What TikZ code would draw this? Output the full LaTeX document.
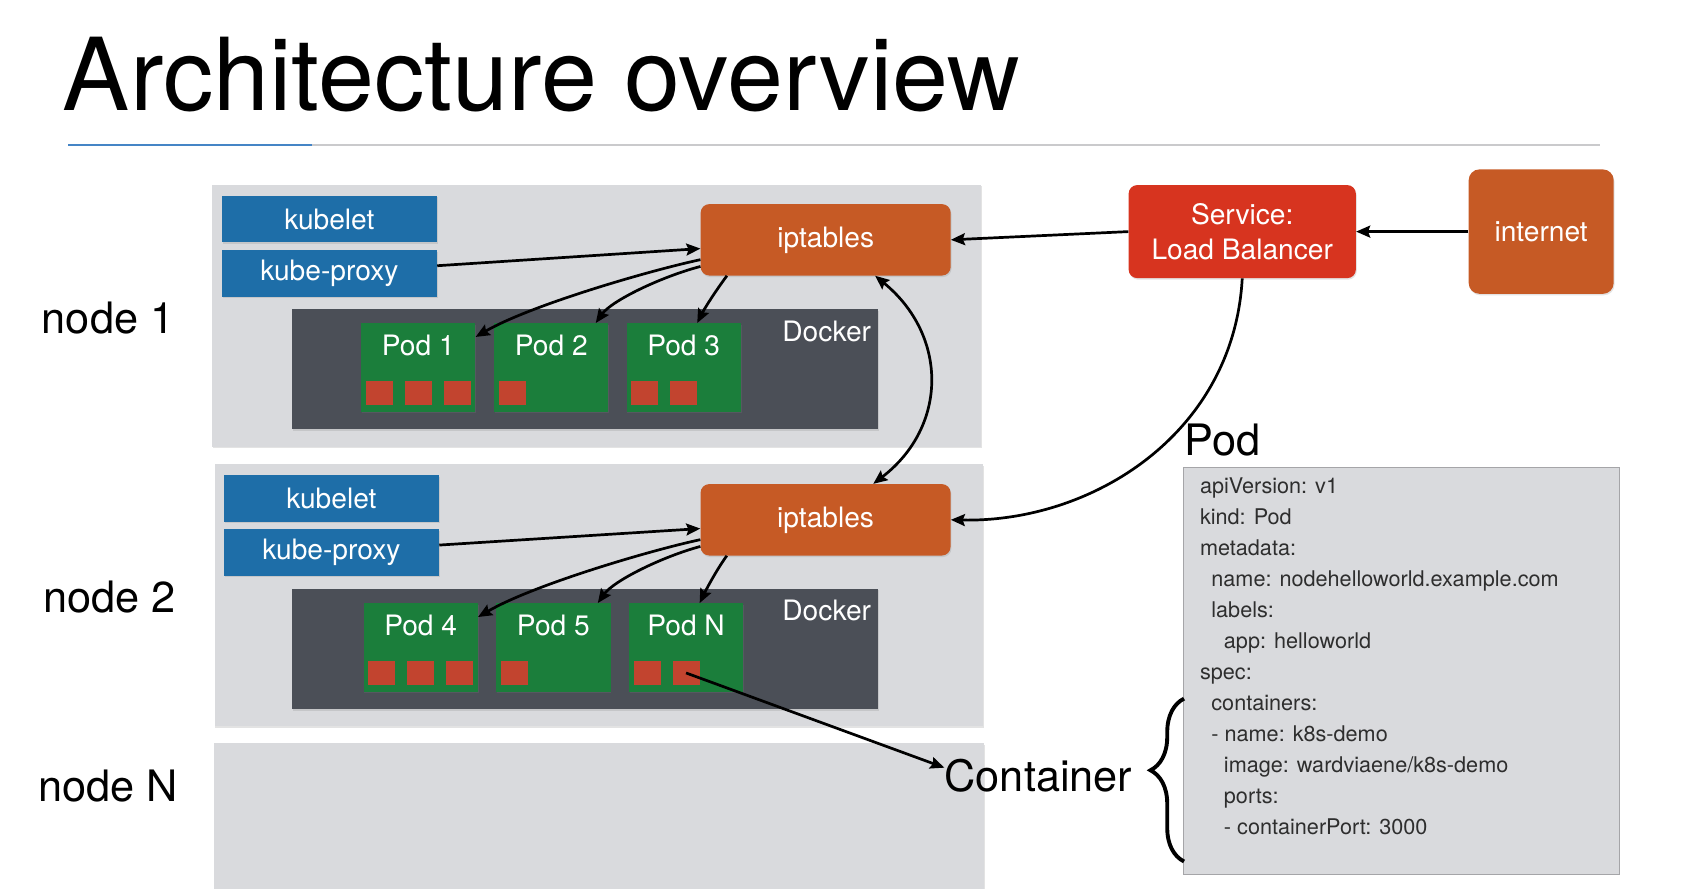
\documentclass[tikz,border=0pt]{standalone}
\usepackage{fontspec}
\setmainfont{TeX Gyre Heros}
\usetikzlibrary{arrows.meta, shadows, decorations.pathreplacing}

\definecolor{panelgray}{HTML}{D9DADD}
\definecolor{kubeblue}{HTML}{1E6EA8}
\definecolor{dockergray}{HTML}{4B4F57}
\definecolor{podgreen}{HTML}{1B7E3B}
\definecolor{ctrred}{HTML}{C2442F}
\definecolor{iptorange}{HTML}{C65A25}
\definecolor{lbred}{HTML}{D7341F}
\definecolor{specedge}{HTML}{A5A5A8}
\definecolor{specink}{HTML}{2E2E2E}
\definecolor{rulegray}{HTML}{CACACC}
\definecolor{ruleblue}{HTML}{4585C6}

\begin{document}
\begin{tikzpicture}[x=1pt,y=1pt,yscale=-1,xscale=1,
  soft/.style={drop shadow={shadow xshift=0.8pt, shadow yshift=-1.4pt, opacity=0.22}},
  panel/.style={fill=panelgray, inner sep=0pt, minimum width=710pt, soft},
  kubebox/.style={fill=kubeblue, text=white, inner sep=0pt, minimum width=199pt, minimum height=43pt, font=\fontsize{26}{30}\selectfont, soft},
  dockerbox/.style={fill=dockergray, inner sep=0pt, minimum width=542pt, minimum height=111pt, soft},
  podbox/.style={fill=podgreen, inner sep=0pt, minimum width=105.6pt, minimum height=81.7pt, soft},
  ctrbox/.style={fill=ctrred, inner sep=0pt, minimum width=25pt, minimum height=22.5pt},
  iptbox/.style={fill=iptorange, text=white, rounded corners=8pt, inner sep=0pt, minimum width=231pt, minimum height=66pt, font=\fontsize{26}{30}\selectfont, soft},
  whitetext/.style={text=white, inner sep=0pt, font=\fontsize{26}{30}\selectfont},
  bigtext/.style={inner sep=0pt, font=\fontsize{40}{44}\selectfont},
  spectext/.style={inner sep=0pt, text=specink, anchor=base west, font=\fontsize{20}{24}\selectfont},
  link/.style={line width=2.5pt, -{Stealth[length=13pt,width=11pt,inset=2pt]}},
  dlink/.style={line width=2.5pt, {Stealth[length=13pt,width=11pt,inset=2pt]}-{Stealth[length=13pt,width=11pt,inset=2pt]}}]
\useasboundingbox (0,0) rectangle (1568,821);

% Title
\node [anchor=base west, inner sep=0pt, font=\fontsize{93}{100}\selectfont] (title) at (58,102.3) {Architecture overview};
\draw [rulegray, line width=2pt] (63,134) -- (1478,134);
\draw [ruleblue, line width=2pt] (63,134) -- (288,134);

%Shape: Rectangle [node panels]
\node [panel, minimum height=242pt] (panel1) at (551.3,291.9) {};
\node [panel, minimum height=242pt] (panel2) at (553.2,550.1) {};
\node [panel, minimum height=134.2pt, minimum width=711pt] (panelN) at (553.5,753.9) {};

% Text Node
\node [bigtext, anchor=base west] (node1) at (38.5,308) {node 1};
% Text Node
\node [bigtext, anchor=base west] (node2) at (40,565.5) {node 2};
% Text Node
\node [bigtext, anchor=base west] (nodeN) at (35.4,741) {node N};

%Shape: Rectangle [node 1]
\node [kubebox] (kubelet1) at (304.3,202.5) {kubelet};
\node [kubebox] (kproxy1) at (304.3,252.5) {kube-proxy};
\node [dockerbox] (docker1) at (540.7,341.3) {};
\node [whitetext, anchor=base east] (docker1-name) at (805,315.7) {Docker};
\node [podbox] (pod1) at (386.5,339.5) {};
\node [podbox] (pod2) at (509.4,339.5) {};
\node [podbox] (pod3) at (631.7,339.5) {};
\node [whitetext, anchor=base] (pod1-name) at (386.5,328.6) {Pod 1};
\node [whitetext, anchor=base] (pod2-name) at (509.4,328.6) {Pod 2};
\node [whitetext, anchor=base] (pod3-name) at (631.7,328.6) {Pod 3};
\node [ctrbox] (ctr1a) at (350.7,363) {};
\node [ctrbox] (ctr1b) at (386.5,363) {};
\node [ctrbox] (ctr1c) at (422.3,363) {};
\node [ctrbox] (ctr2a) at (473.6,363) {};
\node [ctrbox] (ctr3a) at (595.9,363) {};
\node [ctrbox] (ctr3b) at (631.7,363) {};
\node [iptbox] (ipt1) at (762.9,221.6) {iptables};

%Shape: Rectangle [node 2]
\node [kubebox] (kubelet2) at (306.2,460.5) {kubelet};
\node [kubebox] (kproxy2) at (306.2,510.6) {kube-proxy};
\node [dockerbox] (docker2) at (540.5,599.7) {};
\node [whitetext, anchor=base east] (docker2-name) at (805,573.5) {Docker};
\node [podbox] (pod4) at (388.7,598.3) {};
\node [podbox] (pod5) at (511.3,598.3) {};
\node [podbox] (podN) at (633.9,598.3) {};
\node [whitetext, anchor=base] (pod4-name) at (388.7,587.4) {Pod 4};
\node [whitetext, anchor=base] (pod5-name) at (511.3,587.4) {Pod 5};
\node [whitetext, anchor=base] (podN-name) at (633.9,587.4) {Pod N};
\node [ctrbox] (ctr4a) at (352.9,621.8) {};
\node [ctrbox] (ctr4b) at (388.7,621.8) {};
\node [ctrbox] (ctr4c) at (424.5,621.8) {};
\node [ctrbox] (ctr5a) at (475.5,621.8) {};
\node [ctrbox] (ctrNa) at (598.1,621.8) {};
\node [ctrbox] (ctrNb) at (633.9,621.8) {};
\node [iptbox] (ipt2) at (762.8,480.3) {iptables};

%Shape: Rounded Rectangle [service, internet]
\node [iptbox, fill=lbred, align=center, minimum width=210pt, minimum height=86pt, font=\fontsize{26}{32}\selectfont] (lb) at (1147.8,214) {Service:\\Load Balancer};
\node [iptbox, rounded corners=10pt, minimum width=134pt, minimum height=115pt] (internet) at (1424,214) {internet};

%Shape: Rectangle [pod spec]
\node [bigtext, anchor=base west] (podspec-name) at (1094.5,421.3) {Pod};
\node [fill=panelgray, draw=specedge, line width=1.2pt, inner sep=0pt, minimum width=402.8pt, minimum height=376pt] (podspec) at (1295.2,619.8) {};
% Text Node
\node [spectext] (spec1) at (1108.6,455.8) {apiVersion: v1};
\node [spectext] (spec2) at (1108.6,484.5) {kind: Pod};
\node [spectext] (spec3) at (1108.6,513.2) {metadata:};
\node [spectext] (spec4) at (1119.1,541.9) {name: nodehelloworld.example.com};
\node [spectext] (spec5) at (1119.1,570.6) {labels:};
\node [spectext] (spec6) at (1130.7,599.3) {app: helloworld};
\node [spectext] (spec7) at (1108.6,628.0) {spec:};
\node [spectext] (spec8) at (1119.1,656.7) {containers:};
\node [spectext] (spec9) at (1119.1,685.4) {- name: k8s-demo};
\node [spectext] (spec10) at (1130.7,714.1) {image: wardviaene/k8s-demo};
\node [spectext] (spec11) at (1130.7,742.8) {ports:};
\node [spectext] (spec12) at (1130.7,771.5) {- containerPort: 3000};

% Text Node
\node [bigtext, anchor=base west] (container) at (872.6,731.5) {Container};
%Shape: Brace
\draw [decorate, decoration={brace, amplitude=31pt, aspect=0.56}, line width=3.6pt] (1094,796) -- (1094,645.5);

%Straight Lines
\draw [link] (internet.west) -- (lb.east);
\draw [link] (lb.west) -- (ipt1.east);
\draw [link] (kproxy1.4) -- (ipt1.184);
\draw [link] (kproxy2.4) -- (ipt2.184);
\draw [link] (ctrNb.center) -- (container.175);

%Curve Lines
\draw [link] (ipt1.189) .. controls (600,250) and (490,282) .. (pod1.28);
\draw [link] (ipt1.192) .. controls (610,256) and (565,278) .. (pod2.45);
\draw [link] (ipt1.200) .. controls (664,265) and (652,283) .. (pod3.73);
\draw [link] (ipt2.189) .. controls (600,508.7) and (492,540.7) .. (pod4.28);
\draw [link] (ipt2.192) .. controls (611,514.7) and (567,536.7) .. (pod5.45);
\draw [link] (ipt2.200) .. controls (664,523.7) and (654,541.7) .. (podN.73);
\draw [dlink] (ipt1.324) .. controls (876,310) and (876,394) .. (ipt2.37);
\draw [link] (lb.south) .. controls (1140,400) and (1010,483) .. (ipt2.east);

\end{tikzpicture}
\end{document}
